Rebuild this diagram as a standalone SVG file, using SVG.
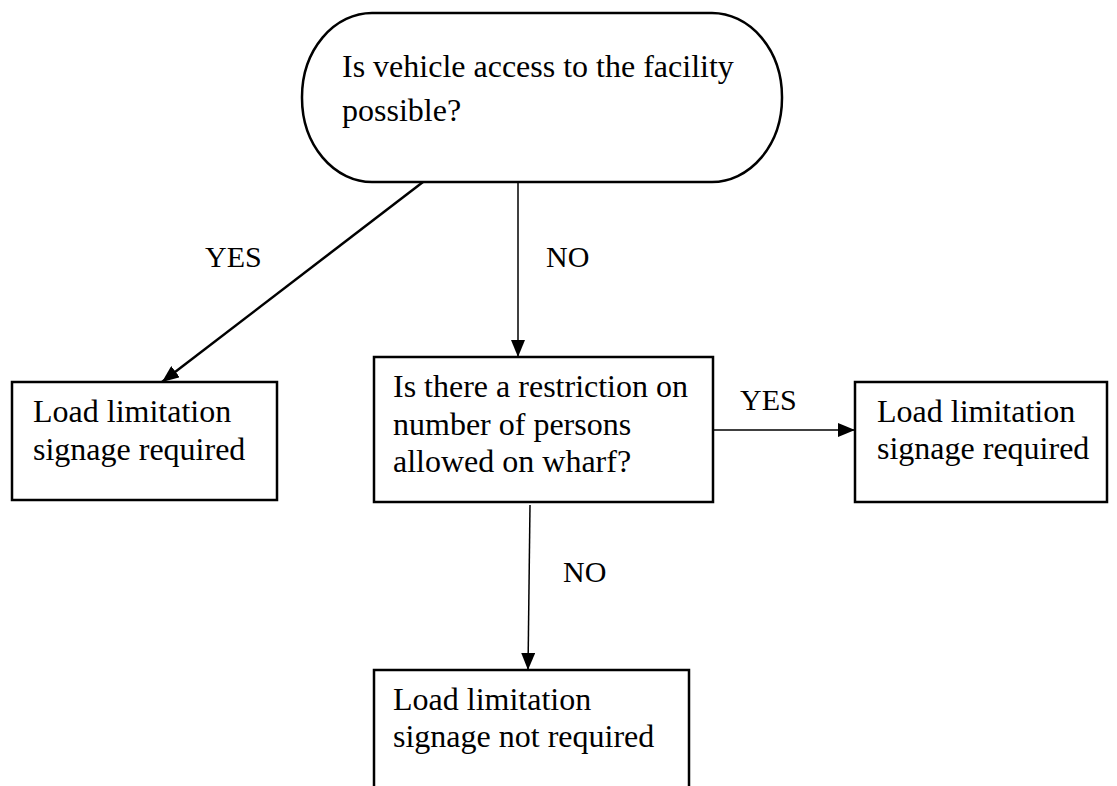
<svg xmlns="http://www.w3.org/2000/svg" width="1117" height="786" viewBox="0 0 1117 786">
  <style>
    .box { fill: #ffffff; stroke: #000000; stroke-width: 2.5; }
    .txt { font-family: "Liberation Serif", "Times New Roman", serif; font-size: 32px; fill: #000000; }
    .lbl { font-family: "Liberation Serif", "Times New Roman", serif; font-size: 30px; fill: #000000; }
    .edge { fill: none; stroke: #000000; stroke-width: 1.5; }
  </style>
  <defs>
    <marker id="arrowBig" viewBox="0 0 17 14" refX="17" refY="7" markerWidth="17" markerHeight="14" markerUnits="userSpaceOnUse" orient="auto">
      <path d="M0,0 L17,7 L0,14 z" fill="#000000"/>
    </marker>
  </defs>
  <rect width="1117" height="786" fill="#ffffff"/>

  <g id="connectors">
    <line class="edge" x1="423" y1="182" x2="162" y2="382" marker-end="url(#arrowBig)" style="stroke-width:2.5"/>
    <line class="edge" x1="518" y1="182" x2="518" y2="357" marker-end="url(#arrowBig)"/>
    <line class="edge" x1="713" y1="430" x2="855" y2="430" marker-end="url(#arrowBig)"/>
    <line class="edge" x1="530" y1="505" x2="528" y2="670" marker-end="url(#arrowBig)"/>
    <text class="lbl" x="205" y="267">YES</text>
    <text class="lbl" x="546" y="267">NO</text>
    <text class="lbl" x="740" y="410">YES</text>
    <text class="lbl" x="563" y="582">NO</text>
  </g>

  <g id="start">
    <rect class="box" x="302" y="13" width="480" height="169" rx="70" ry="84"/>
    <text class="txt" x="342" y="77">Is vehicle access to the facility</text>
    <text class="txt" x="342" y="121">possible?</text>
  </g>

  <g id="signage-left">
    <rect class="box" x="12" y="382" width="265" height="118"/>
    <text class="txt" x="33" y="422">Load limitation</text>
    <text class="txt" x="33" y="460">signage required</text>
  </g>

  <g id="persons-question">
    <rect class="box" x="374" y="357" width="339" height="145"/>
    <text class="txt" x="393" y="397">Is there a restriction on</text>
    <text class="txt" x="393" y="435">number of persons</text>
    <text class="txt" x="393" y="472">allowed on wharf?</text>
  </g>

  <g id="signage-right">
    <rect class="box" x="855" y="382" width="252" height="120"/>
    <text class="txt" x="877" y="422">Load limitation</text>
    <text class="txt" x="877" y="459">signage required</text>
  </g>

  <g id="signage-not-required">
    <rect class="box" x="374" y="670" width="315" height="130"/>
    <text class="txt" x="393" y="710">Load limitation</text>
    <text class="txt" x="393" y="747">signage not required</text>
  </g>
</svg>
